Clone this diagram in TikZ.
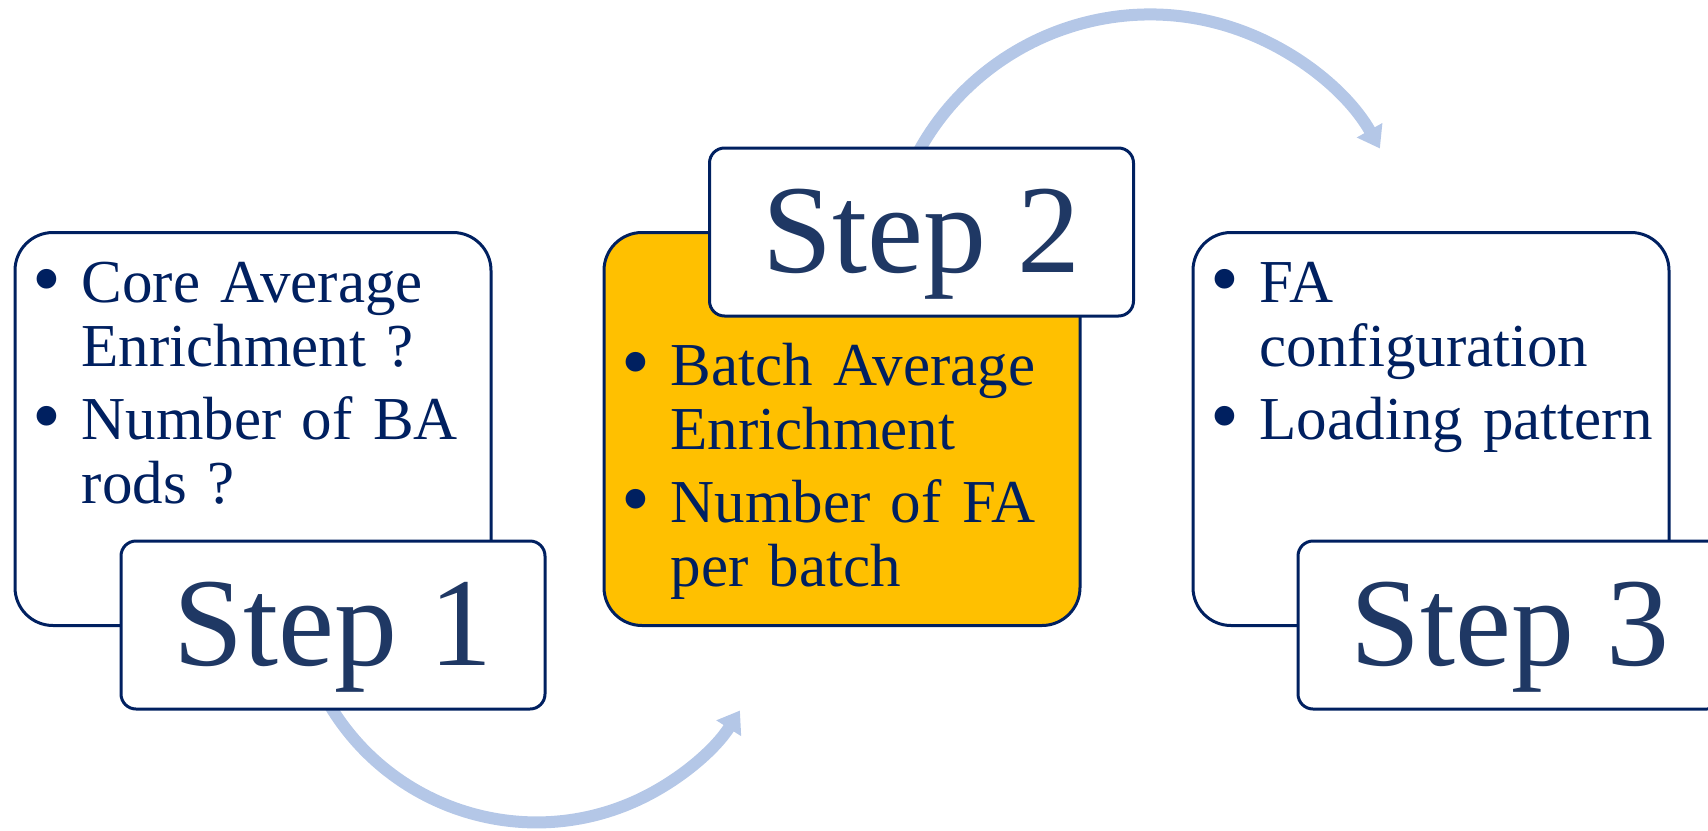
\documentclass[tikz,border=0pt]{standalone}
\usepackage{fontspec}
\setmainfont{Liberation Serif}
\usetikzlibrary{arrows.meta}
\definecolor{navy}{HTML}{002060}
\definecolor{stepblue}{HTML}{1F3864}
\definecolor{arcblue}{HTML}{B4C7E7}
\definecolor{gold}{HTML}{FFC000}
\pgfdeclarelayer{bg}
\pgfsetlayers{bg,main}
\newcommand\bitem[1]{\par\noindent\hangindent=49pt\hangafter=1\rule{0pt}{50pt}\makebox[49pt][l]{\raisebox{-4pt}{\scalebox{1.35}{\textbullet}}}#1\par}
\newcommand\brk{\hfill\break}
\tikzset{
  bigbox/.style={draw=navy, line width=3pt, rounded corners=38pt, inner sep=0pt,
    minimum width=476pt, minimum height=393pt},
  stepbox/.style={draw=navy, line width=3pt, rounded corners=15pt, fill=white, inner sep=0pt,
    minimum width=424pt, minimum height=168pt, text=stepblue, text height=100pt, text depth=20pt,
    font=\fontsize{126}{126}\selectfont},
  bullets/.style={anchor=north west, inner sep=0pt, text width=470pt, align=left, text=navy,
    font=\fontsize{61}{64}\selectfont\setlength{\parskip}{9pt}\raggedright},
  flow/.style={draw=arcblue, line width=12pt, -{Triangle[width=28pt,length=21pt]}}
}
\begin{document}
\begin{tikzpicture}[x=1pt, y=-1pt]
\useasboundingbox (0,0) rectangle (1708,830);
% big boxes
\node[bigbox, fill=white] (b1) at (253,429) {};
\node[bigbox, fill=gold] (b2) at (842,429) {};
\node[bigbox, fill=white] (b3) at (1431,429) {};
% step boxes
\node[stepbox] (s1) at (333,625) {Step 1};
\node[stepbox] (s2) at (921.5,232) {Step 2};
\node[stepbox] (s3) at (1510,625) {Step 3};
% bullet texts
\node[bullets] (t1) at ([xshift=19pt]b1.west |- 0,229) {\bitem{Core Average\brk Enrichment ?}\bitem{Number of BA\brk rods ?}};
\node[bullets] (t2) at ([xshift=19pt]b2.west |- 0,312) {\bitem{Batch Average\brk Enrichment}\bitem{Number of FA\brk per batch}};
\node[bullets] (t3) at ([xshift=19pt]b3.west |- 0,229) {\bitem{FA\brk configuration}\bitem{Loading pattern}};
% arcs
\begin{pgfonlayer}{bg}
\path (s1.south) arc[start angle=147.6, end angle=155, radius=241] coordinate (a1);
\draw[flow] (a1) arc[start angle=155, end angle=32.4, radius=241];
\path (s2.north) arc[start angle=210, end angle=200, radius=264] coordinate (a2);
\draw[flow] (a2) arc[start angle=200, end angle=330.5, radius=264];
\end{pgfonlayer}
\end{tikzpicture}
\end{document}
